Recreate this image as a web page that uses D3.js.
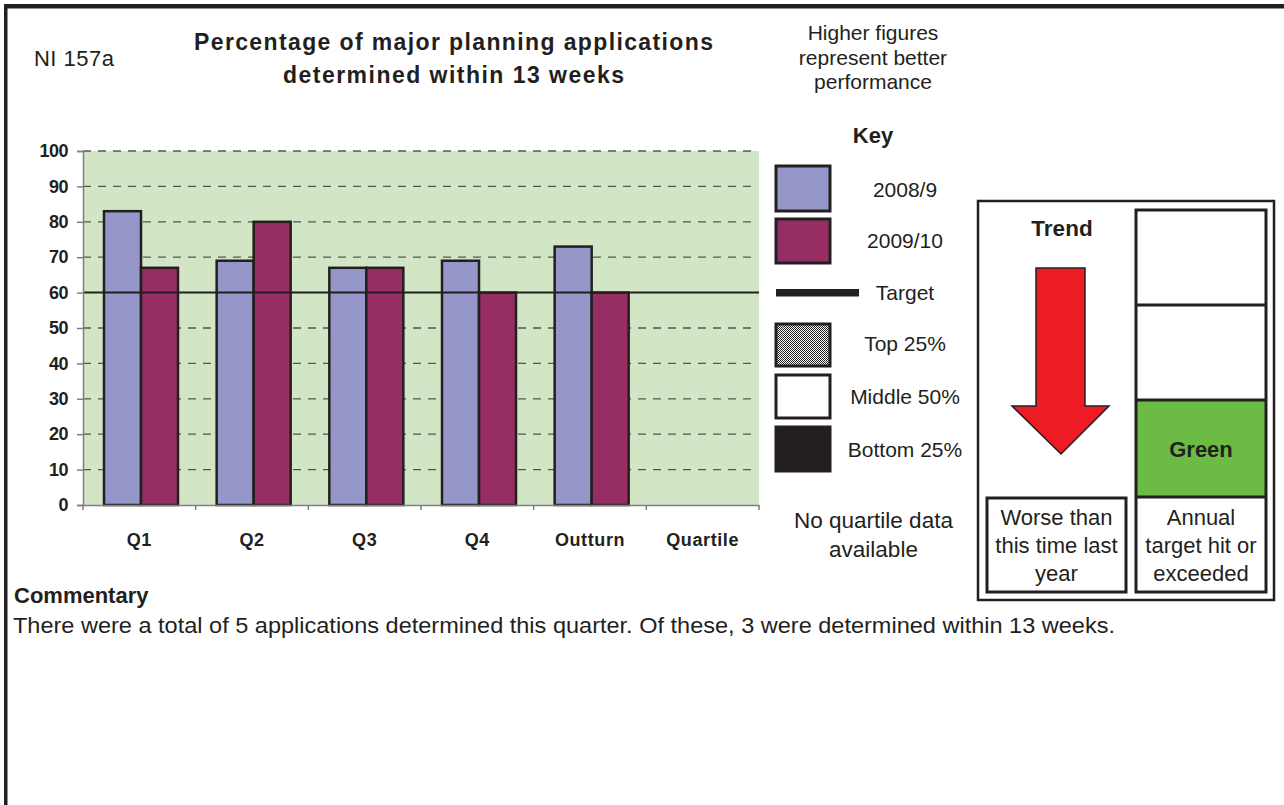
<!DOCTYPE html>
<html><head><meta charset="utf-8">
<script src="https://cdn.jsdelivr.net/npm/d3@7"></script>
<style>
body{margin:0;background:#fff}
svg{display:block;font-family:"Liberation Sans",Arial,Helvetica,sans-serif;}
</style>
</head><body><svg id="c" width="1284" height="805"></svg>
<script>
// ---- data ----
const categories = ["Q1", "Q2", "Q3", "Q4", "Outturn", "Quartile"];
const seriesNames = ["2008/9", "2009/10"];
const values2008 = [83, 69, 67, 69, 73, null];
const values2009 = [67, 80, 67, 60, 60, null];
const targetValue = 60;
const yTickValues = [0, 10, 20, 30, 40, 50, 60, 70, 80, 90, 100];
const seriesColors = ["#9597c9", "#962e63"];
const keyLabels = ["2008/9", "2009/10", "Target", "Top 25%", "Middle 50%", "Bottom 25%"];

const ink = "#231f20";
const svg = d3.select("#c");

// pattern for Top 25%
const defs = svg.append("defs");
const pat = defs.append("pattern").attr("id", "dots").attr("width", 2).attr("height", 2).attr("patternUnits", "userSpaceOnUse");
pat.append("rect").attr("width", 2).attr("height", 2).attr("fill", "#fff");
pat.append("rect").attr("width", 1).attr("height", 1).attr("fill", "#222");
pat.append("rect").attr("x", 1).attr("y", 1).attr("width", 1).attr("height", 1).attr("fill", "#222");

// page frame
svg.append("rect").attr("x", 4).attr("y", 4).attr("width", 1280).attr("height", 4.5).attr("fill", ink);
svg.append("rect").attr("x", 4).attr("y", 4).attr("width", 3.5).attr("height", 801).attr("fill", ink);

// titles
svg.append("text").attr("x", 34).attr("y", 66).attr("font-size", 22).attr("fill", ink)
  .attr("textLength", 80).attr("lengthAdjust", "spacing").text("NI 157a");
const title = svg.append("g").attr("font-weight", "bold").attr("font-size", 23).attr("fill", ink).attr("text-anchor", "middle");
title.append("text").attr("x", 453.5).attr("y", 50).attr("textLength", 519).attr("lengthAdjust", "spacing").text("Percentage of major planning applications");
title.append("text").attr("x", 453.5).attr("y", 83).attr("textLength", 341).attr("lengthAdjust", "spacing").text("determined within 13 weeks");

const note = svg.append("g").attr("font-size", 21).attr("fill", ink).attr("text-anchor", "middle");
note.append("text").attr("x", 873).attr("y", 40).text("Higher figures");
note.append("text").attr("x", 873).attr("y", 65).text("represent better");
note.append("text").attr("x", 873).attr("y", 89).text("performance");

// ---- chart ----
const L = 83, R = 759, T = 151, B = 505;
const x = d3.scaleBand().domain(categories).range([L, R]).padding(0);
const xs = d3.scaleBand().domain(seriesNames).range([21, 95]).padding(0);
const y = d3.scaleLinear().domain([0, 100]).range([B, T]);

svg.append("rect").attr("x", L).attr("y", T).attr("width", R - L).attr("height", B - T).attr("fill", "#d2e6c6");

// gridlines
svg.append("g").selectAll("line").data(yTickValues.filter(v => v > 0 && v !== targetValue)).join("line")
  .attr("x1", L).attr("x2", R - 6).attr("y1", d => y(d)).attr("y2", d => y(d))
  .attr("stroke", "#555").attr("stroke-width", 1.3).attr("stroke-dasharray", "8,7");

// bars
const rows = categories.map((c, i) => ({ c, vals: [values2008[i], values2009[i]] }));
const gBars = svg.append("g");
rows.forEach(r => {
  r.vals.forEach((v, j) => {
    if (v == null) return;
    gBars.append("rect")
      .attr("x", x(r.c) + xs(seriesNames[j])).attr("width", xs.bandwidth())
      .attr("y", y(v)).attr("height", y(0) - y(v))
      .attr("fill", seriesColors[j]).attr("stroke", ink).attr("stroke-width", 2.5);
  });
});

// target line
svg.append("line").attr("x1", L).attr("x2", R).attr("y1", y(targetValue)).attr("y2", y(targetValue))
  .attr("stroke", ink).attr("stroke-width", 2);

// y axis
const yAxis = svg.append("g").attr("transform", `translate(${L},0)`)
  .call(d3.axisLeft(y).tickValues(yTickValues).tickSize(6).tickPadding(9));
yAxis.select(".domain").attr("stroke", "#7f7f7f").attr("stroke-width", 1.5);
yAxis.selectAll(".tick line").attr("stroke", "#7f7f7f").attr("stroke-width", 1.5);
yAxis.selectAll("text").attr("font-size", 18).attr("font-weight", "bold").attr("fill", ink)
  .attr("font-family", "'Liberation Sans',Arial,sans-serif").attr("letter-spacing", -0.5);

// x axis
const xAxis = svg.append("g").attr("transform", `translate(0,${B})`)
  .call(d3.axisBottom(x).tickSize(0).tickPadding(28));
xAxis.select(".domain").attr("stroke", "#7f7f7f").attr("stroke-width", 1.5);
xAxis.selectAll("text").attr("font-size", 18).attr("font-weight", "bold").attr("fill", ink)
  .attr("font-family", "'Liberation Sans',Arial,sans-serif").attr("letter-spacing", 0.6);
svg.append("g").selectAll("line").data(categories.map(c => x(c)).concat([R])).join("line")
  .attr("x1", d => d).attr("x2", d => d).attr("y1", B).attr("y2", B + 5)
  .attr("stroke", "#7f7f7f").attr("stroke-width", 1.5);

// ---- key ----
svg.append("text").attr("x", 873).attr("y", 143).attr("text-anchor", "middle")
  .attr("font-size", 22).attr("font-weight", "bold").attr("fill", ink).text("Key");
const swatchY = [[166, 45], [219, 44], null, [324, 42], [375, 43], [427, 44]];
const swatchFill = [seriesColors[0], seriesColors[1], null, "url(#dots)", "#fff", ink];
const labelY = [197, 248, 300, 351, 404, 457];
const key = svg.append("g");
keyLabels.forEach((lab, i) => {
  if (swatchY[i]) {
    key.append("rect").attr("x", 776).attr("y", swatchY[i][0]).attr("width", 54).attr("height", swatchY[i][1])
      .attr("fill", swatchFill[i]).attr("stroke", ink).attr("stroke-width", 3);
  } else {
    key.append("rect").attr("x", 776).attr("y", 289).attr("width", 83).attr("height", 7.5).attr("fill", ink);
  }
  key.append("text").attr("x", 905).attr("y", labelY[i]).attr("text-anchor", "middle")
    .attr("font-size", 21).attr("fill", ink).text(lab);
});
const nq = svg.append("g").attr("font-size", 22.5).attr("fill", ink).attr("text-anchor", "middle");
nq.append("text").attr("x", 873.5).attr("y", 528).text("No quartile data");
nq.append("text").attr("x", 873.5).attr("y", 557).text("available");

// ---- status panel ----
const P = svg.append("g");
P.append("rect").attr("x", 978).attr("y", 201).attr("width", 296).attr("height", 399)
  .attr("fill", "#fff").attr("stroke", ink).attr("stroke-width", 2.5);
P.append("rect").attr("x", 1136).attr("y", 400).attr("width", 130).attr("height", 97).attr("fill", "#6bbb45");
P.append("rect").attr("x", 1136).attr("y", 210).attr("width", 130).attr("height", 382)
  .attr("fill", "none").attr("stroke", ink).attr("stroke-width", 3);
[305, 400, 497].forEach(yy => P.append("line").attr("x1", 1136).attr("x2", 1266).attr("y1", yy).attr("y2", yy)
  .attr("stroke", ink).attr("stroke-width", 3));
P.append("rect").attr("x", 987).attr("y", 498).attr("width", 139).attr("height", 94)
  .attr("fill", "#fff").attr("stroke", ink).attr("stroke-width", 3);
P.append("text").attr("x", 1062).attr("y", 236).attr("text-anchor", "middle").attr("font-size", 22.5)
  .attr("font-weight", "bold").attr("fill", ink).text("Trend");
P.append("polygon")
  .attr("points", [[1036,268],[1085,268],[1085,406],[1109,406],[1061,454],[1012,406],[1036,406]].map(p => p.join(",")).join(" "))
  .attr("fill", "#ed1c24").attr("stroke", ink).attr("stroke-width", 1.5);
P.append("text").attr("x", 1201).attr("y", 457).attr("text-anchor", "middle").attr("font-size", 22)
  .attr("font-weight", "bold").attr("fill", ink).text("Green");
const tl = P.append("g").attr("font-size", 22).attr("fill", ink).attr("text-anchor", "middle");
["Worse than", "this time last", "year"].forEach((s, i) => tl.append("text").attr("x", 1056.5).attr("y", 525 + i * 28).text(s));
["Annual", "target hit or", "exceeded"].forEach((s, i) => tl.append("text").attr("x", 1201).attr("y", 525 + i * 28).text(s));

// ---- commentary ----
svg.append("text").attr("x", 14).attr("y", 603).attr("font-size", 22).attr("font-weight", "bold").attr("fill", ink).text("Commentary");
svg.append("text").attr("x", 13).attr("y", 633).attr("font-size", 22.5).attr("fill", ink)
  .attr("textLength", 1102).attr("lengthAdjust", "spacingAndGlyphs")
  .text("There were a total of 5 applications determined this quarter. Of these, 3 were determined within 13 weeks.");
</script>
</body></html>
